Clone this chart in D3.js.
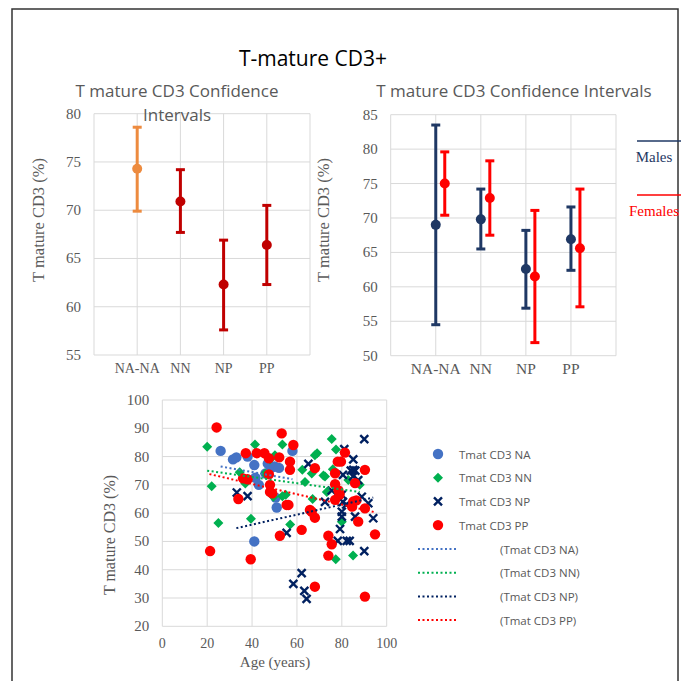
<!DOCTYPE html>
<html>
<head>
<meta charset="utf-8">
<script src="https://cdnjs.cloudflare.com/ajax/libs/d3/7.8.5/d3.min.js"></script>
<style>
body { margin: 0; background: #fff; }
</style>
</head>
<body>
<div id="chart"></div>
<script>
// categories
var groups = ['NA-NA', 'NN', 'NP', 'PP'];

// left panel: all patients, mean with confidence interval
var allMean = [74.3, 70.9, 62.3, 66.4];
var allLow = [69.9, 67.7, 57.6, 62.3];
var allHigh = [78.6, 74.2, 66.9, 70.5];

// right panel: by sex
var maleMean = [69.0, 69.8, 62.6, 66.9];
var maleLow = [54.5, 65.5, 56.9, 62.4];
var maleHigh = [83.5, 74.2, 68.2, 71.6];
var femaleMean = [75.0, 72.9, 61.5, 65.6];
var femaleLow = [70.4, 67.5, 51.9, 57.1];
var femaleHigh = [79.6, 78.3, 71.1, 74.2];

var leftTicks = [55, 60, 65, 70, 75, 80];
var rightTicks = [50, 55, 60, 65, 70, 75, 80, 85];

// bottom panel: age (years) vs T mature CD3 (%)
var pointsNA = [[26,82],[31.5,79],[33,79.7],[38,80],[41,77],[41.5,72.5],[43,70],[46,74],[47,77.5],
	[48.5,76],[50,76.5],[52,76],[50.5,65.5],[51,62],[41,50],[58,82]];
var pointsNN = [[20,83.5],[22,69.5],[25,56.5],[34.5,74.5],[37,70.5],[39.5,58],[41.3,84.3],[45.8,74],
	[48,79],[50.2,80.5],[49.5,65.8],[53.5,66],[53.5,84.3],[55,66.5],[57,56],[62.4,75.3],[63.6,71],
	[66.6,74],[67,65],[68,80.5],[69,81.2],[71.8,73.3],[72.5,73],[73.3,67.5],[75.5,86.2],[77.4,82.5],
	[76,75.5],[82.9,71.7],[80,57],[77.3,43.7],[85,45],[88,70]];
var pointsNP = [[33.2,67.3],[38,66],[55.4,53],[58.4,35],[62.1,38.8],[63.3,32.5],[64.3,29.7],[65.1,77.4],
	[72.5,64],[75.5,68],[78.2,50.2],[79.2,54.4],[80,60.5],[80,58.8],[80.5,64],[80.5,73.5],[81.1,82.6],
	[82.2,50.2],[83.5,50.2],[84,75],[85.1,79],[85.1,75.3],[86,75],[85,73],[85.9,58.8],[87.3,71.7],
	[88.9,65.8],[90,86.2],[90,46.6],[91.8,63.5],[94,58.2],[80,66.5],[82,63]];
var pointsPP = [[21.3,46.6],[24.2,90.3],[33.9,65],[36,72.3],[37.2,81.2],[38,72],[39.4,43.7],[42.1,81.2],
	[45.5,81.2],[47.5,79.4],[47.5,73.7],[48,70],[48,67.5],[49,67],[52.1,79.7],[52.4,52],[53.2,88.2],
	[55.4,62.9],[56.2,62.9],[56.9,78.2],[56.9,75.3],[58.4,84.1],[62.1,54.1],[65.8,61.1],[66.6,60.5],
	[68,58.4],[68,75.9],[68,34],[74,52],[74,45],[75.5,49],[77,74.1],[77,70.2],[77,64.7],[78.2,78.2],
	[79.6,78.2],[78.5,68],[79,66.6],[81.4,81.4],[84.6,62.3],[85.1,64.1],[86.5,64.5],[85.9,70.6],
	[87.3,57],[90.3,61.7],[90.3,75.3],[94.8,52.5],[90.3,30.5]];

// trendline end points
var trendNA = [[26,76.5],[58,72]];
var trendNN = [[20,75],[88,67.5]];
var trendNP = [[33,54.7],[94,65.5]];
var trendPP = [[21,73.8],[95,60.3]];

var scatterXTicks = [0, 20, 40, 60, 80, 100];
var scatterYTicks = [20, 30, 40, 50, 60, 70, 80, 90, 100];

var width = 691;
var height = 681;
var gridColor = '#d9d9d9';
var textColor = '#595959';
var serif = '"Liberation Serif", "DejaVu Serif", serif';
var sans = '"Open Sans", "Noto Sans", sans-serif';

const svg = d3.select('#chart').append('svg')
	.attr('width', width)
	.attr('height', height);

// outer frame
svg.append('rect')
	.attr('x', 12).attr('y', 9)
	.attr('width', 666).attr('height', 700)
	.attr('fill', 'none')
	.attr('stroke', '#333')
	.attr('stroke-width', 1.5);

svg.append('text')
	.attr('x', 313).attr('y', 66)
	.attr('text-anchor', 'middle')
	.style('font-family', sans)
	.style('font-size', '21px')
	.attr('fill', '#000')
	.text('T-mature CD3+');

// draws grid, y labels and category labels of one CI panel
function ciFrame(x, y, ticks, xFont) {
	var g = svg.append('g');
	g.selectAll('.hgrid').data(ticks).enter().append('line')
		.attr('x1', x.range()[0]).attr('x2', x.range()[1])
		.attr('y1', d => y(d)).attr('y2', d => y(d))
		.attr('stroke', gridColor);
	var vx = [x.range()[0]].concat(groups.map(d => x(d))).concat([x.range()[1]]);
	g.selectAll('.vgrid').data(vx).enter().append('line')
		.attr('x1', d => d).attr('x2', d => d)
		.attr('y1', y.range()[0]).attr('y2', y.range()[1])
		.attr('stroke', gridColor);
	g.selectAll('.ylab').data(ticks).enter().append('text')
		.attr('x', x.range()[0] - 13)
		.attr('y', d => y(d) + 5)
		.attr('text-anchor', 'end')
		.style('font-family', serif).style('font-size', '15px')
		.attr('fill', textColor)
		.text(d => d);
	g.selectAll('.xlab').data(groups).enter().append('text')
		.attr('x', d => x(d))
		.attr('y', y.range()[0] + 18)
		.attr('text-anchor', 'middle')
		.style('font-family', serif).style('font-size', xFont)
		.attr('fill', textColor)
		.text(d => d);
	return g;
}

// one error bar series
function errorBars(g, xs, y, mean, low, high, colors) {
	groups.forEach(function(d, i) {
		var c = colors[i];
		g.append('line')
			.attr('x1', xs[i]).attr('x2', xs[i])
			.attr('y1', y(low[i])).attr('y2', y(high[i]))
			.attr('stroke', c).attr('stroke-width', 3);
		[low[i], high[i]].forEach(function(v) {
			g.append('line')
				.attr('x1', xs[i] - 4.5).attr('x2', xs[i] + 4.5)
				.attr('y1', y(v)).attr('y2', y(v))
				.attr('stroke', c).attr('stroke-width', 3);
		});
		g.append('circle')
			.attr('cx', xs[i]).attr('cy', y(mean[i]))
			.attr('r', 5)
			.attr('fill', c);
	});
}

function yTitle(x, y, size) {
	svg.append('text')
		.attr('transform', 'translate(' + x + ',' + y + ') rotate(-90)')
		.attr('text-anchor', 'middle')
		.style('font-family', serif).style('font-size', size)
		.attr('fill', textColor)
		.text('T mature CD3 (%)');
}

// ---- left panel
var xL = d3.scalePoint().domain(groups).range([94, 310]).padding(1);
var yL = d3.scaleLinear().domain([55, 80]).range([355, 113.7]);
var gL = ciFrame(xL, yL, leftTicks, '14px');
errorBars(gL, groups.map(d => xL(d)), yL, allMean, allLow, allHigh,
	['#ED8B3F', '#C00000', '#C00000', '#C00000']);
svg.append('text')
	.attr('x', 177).attr('y', 97)
	.attr('text-anchor', 'middle')
	.style('font-family', sans).style('font-size', '17px')
	.attr('fill', textColor)
	.text('T mature CD3 Confidence');
svg.append('text')
	.attr('x', 177).attr('y', 121)
	.attr('text-anchor', 'middle')
	.style('font-family', sans).style('font-size', '17px')
	.attr('fill', textColor)
	.text('Intervals');
yTitle(44, 220, '16.5px');

// ---- right panel
var xR = d3.scalePoint().domain(groups).range([390.7, 616]).padding(1);
var yR = d3.scaleLinear().domain([50, 85]).range([355.7, 114.7]);
var gR = ciFrame(xR, yR, rightTicks, '15.5px');
errorBars(gR, groups.map(d => xR(d)), yR, maleMean, maleLow, maleHigh,
	groups.map(() => '#1F3864'));
errorBars(gR, groups.map(d => xR(d) + 9), yR, femaleMean, femaleLow, femaleHigh,
	groups.map(() => '#FF0000'));
svg.append('text')
	.attr('x', 514).attr('y', 97)
	.attr('text-anchor', 'middle')
	.style('font-family', sans).style('font-size', '17px')
	.attr('fill', textColor)
	.text('T mature CD3 Confidence Intervals');
yTitle(329, 220, '16.5px');

// sex legend
var sexLegend = [
	{ name: 'Males', color: '#1F3864', y: 141 },
	{ name: 'Females', color: '#FF0000', y: 195 }
];
sexLegend.forEach(function(d) {
	svg.append('line')
		.attr('x1', 637).attr('x2', 681)
		.attr('y1', d.y).attr('y2', d.y)
		.attr('stroke', d.color).attr('stroke-width', 1.5);
	svg.append('text')
		.attr('x', 654).attr('y', d.y + 21)
		.attr('text-anchor', 'middle')
		.style('font-family', serif).style('font-size', '15px')
		.attr('fill', d.color)
		.text(d.name);
});

// ---- bottom scatter
var xS = d3.scaleLinear().domain([0, 100]).range([162.3, 386.7]);
var yS = d3.scaleLinear().domain([20, 100]).range([626.3, 400]);
var gS = svg.append('g');

gS.selectAll('.hgrid').data(scatterYTicks).enter().append('line')
	.attr('x1', xS(0)).attr('x2', xS(100))
	.attr('y1', d => yS(d)).attr('y2', d => yS(d))
	.attr('stroke', gridColor);
gS.selectAll('.vgrid').data(scatterXTicks).enter().append('line')
	.attr('x1', d => xS(d)).attr('x2', d => xS(d))
	.attr('y1', yS(20)).attr('y2', yS(100))
	.attr('stroke', gridColor);
gS.selectAll('.ylab').data(scatterYTicks).enter().append('text')
	.attr('x', xS(0) - 13)
	.attr('y', d => yS(d) + 5)
	.attr('text-anchor', 'end')
	.style('font-family', serif).style('font-size', '15px')
	.attr('fill', textColor)
	.text(d => d);
gS.selectAll('.xlab').data(scatterXTicks).enter().append('text')
	.attr('x', d => xS(d))
	.attr('y', yS(20) + 22)
	.attr('text-anchor', 'middle')
	.style('font-family', serif).style('font-size', '14px')
	.attr('fill', textColor)
	.text(d => d);
svg.append('text')
	.attr('x', 275).attr('y', 667)
	.attr('text-anchor', 'middle')
	.style('font-family', serif).style('font-size', '15px')
	.attr('fill', textColor)
	.text('Age (years)');
yTitle(115, 535, '16px');

function drawMarker(g, kind, color, x, y) {
	if (kind === 'circle') {
		g.append('circle').attr('cx', x).attr('cy', y).attr('r', 5.2).attr('fill', color);
	} else if (kind === 'diamond') {
		g.append('path')
			.attr('d', 'M0,-5L5,0L0,5L-5,0Z')
			.attr('transform', 'translate(' + x + ',' + y + ')')
			.attr('fill', color);
	} else {
		g.append('path')
			.attr('d', 'M-4,-4L4,4M-4,4L4,-4')
			.attr('transform', 'translate(' + x + ',' + y + ')')
			.attr('stroke', color).attr('stroke-width', 2.4)
			.attr('fill', 'none');
	}
}

var series = [
	{ name: 'Tmat CD3 NA', pts: pointsNA, trend: trendNA, kind: 'circle', color: '#4472C4' },
	{ name: 'Tmat CD3 NN', pts: pointsNN, trend: trendNN, kind: 'diamond', color: '#00B050' },
	{ name: 'Tmat CD3 NP', pts: pointsNP, trend: trendNP, kind: 'cross', color: '#002060' },
	{ name: 'Tmat CD3 PP', pts: pointsPP, trend: trendPP, kind: 'circle', color: '#FF0000' }
];

series.forEach(function(s) {
	s.pts.forEach(function(p) {
		drawMarker(gS, s.kind, s.color, xS(p[0]), yS(p[1]));
	});
});

var trendLine = d3.line()
	.x(d => xS(d[0]))
	.y(d => yS(d[1]));

series.forEach(function(s) {
	gS.append('path')
		.datum(s.trend)
		.attr('d', trendLine)
		.attr('fill', 'none')
		.attr('stroke', s.color)
		.attr('stroke-width', 2)
		.attr('stroke-dasharray', '2,2.5');
});

// scatter legend
series.forEach(function(s, i) {
	var ly = 454 + i * 23.7;
	drawMarker(svg, s.kind, s.color, 438, ly);
	svg.append('text')
		.attr('x', 459).attr('y', ly + 4.5)
		.style('font-family', sans).style('font-size', '11.5px')
		.attr('fill', textColor)
		.text(s.name);
});
series.forEach(function(s, i) {
	var ly = 549 + i * 23.7;
	svg.append('line')
		.attr('x1', 418).attr('x2', 456)
		.attr('y1', ly).attr('y2', ly)
		.attr('stroke', s.color).attr('stroke-width', 2)
		.attr('stroke-dasharray', '2,2.5');
	svg.append('text')
		.attr('x', 500).attr('y', ly + 4.5)
		.style('font-family', sans).style('font-size', '11.5px')
		.attr('fill', textColor)
		.text('(' + s.name + ')');
});
</script>
</body>
</html>
